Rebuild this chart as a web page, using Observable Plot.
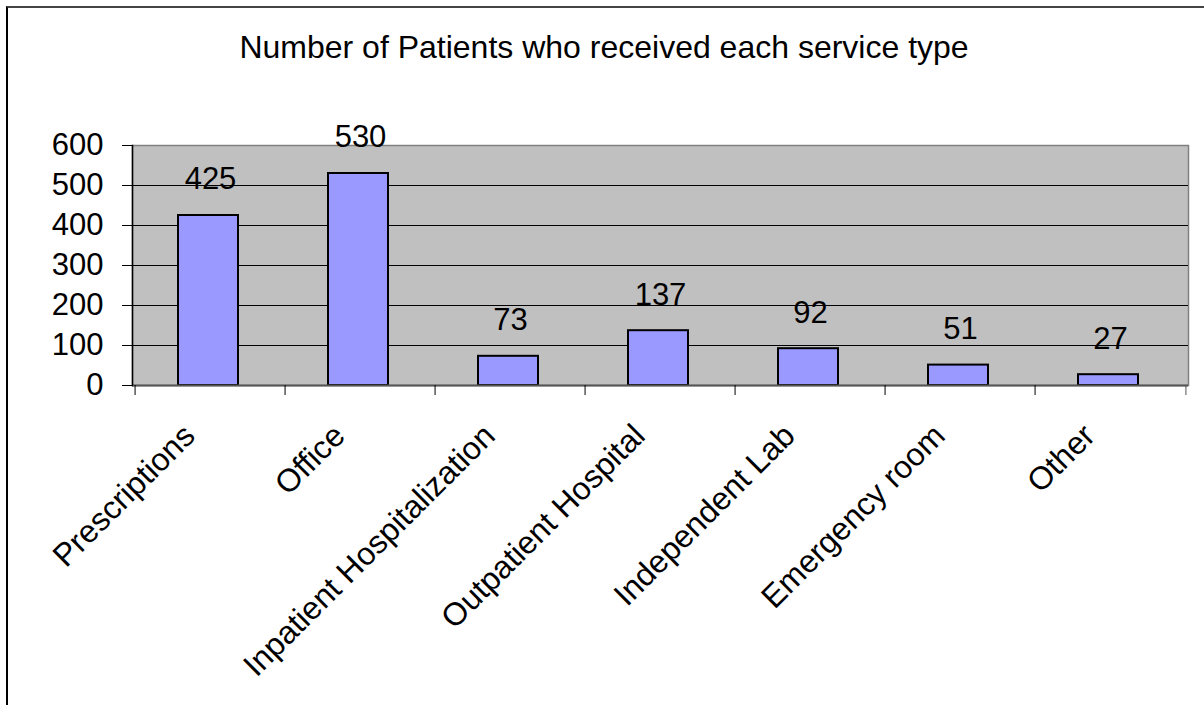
<!DOCTYPE html>
<html>
<head>
<meta charset="utf-8">
<script src="https://cdn.jsdelivr.net/npm/d3@7"></script>
<script src="https://cdn.jsdelivr.net/npm/@observablehq/plot@0.6"></script>
<style>
  html, body { margin: 0; padding: 0; background: #fff; overflow: hidden; }
  body { width: 1204px; height: 705px; position: relative; font-family: "Liberation Sans", Arial, sans-serif; }
  #frame { position: absolute; left: 6px; top: 6px; width: 1400px; height: 900px;
           border-left: 2px solid #000; border-top: 2px solid #444; pointer-events: none; }
  #title { box-sizing: border-box; width: 1204px; height: 100px; padding-top: 31px;
           text-align: center; font-size: 32px; line-height: 32px; color: #000; padding-left: 4px; }
  #chart svg { display: block; }
</style>
</head>
<body>
<div id="title">Number of Patients who received each service type</div>
<div id="chart"></div>
<div id="frame"></div>
<script>
const categories = ["Prescriptions", "Office", "Inpatient Hospitalization", "Outpatient Hospital", "Independent Lab", "Emergency room", "Other"];
const patients = [425, 530, 73, 137, 92, 51, 27];
const yTicks = [0, 100, 200, 300, 400, 500, 600];
const gridValues = [100, 200, 300, 400, 500];

const data = categories.map((c, i) => ({service: c, count: patients[i]}));

const W = 1204, H = 605;
const mL = 132, mR = 16, mT = 45, mB = 320;
const bw = (W - mL - mR) / categories.length;

const plot = Plot.plot({
  width: W,
  height: H,
  marginLeft: mL,
  marginRight: mR,
  marginTop: mT,
  marginBottom: mB,
  style: {fontFamily: "'Liberation Sans', Arial, sans-serif", color: "#000", background: "transparent", overflow: "visible"},
  x: {domain: categories, padding: 0, label: null},
  y: {domain: [0, 600], label: null},
  marks: [
    Plot.frame({fill: "#C0C0C0", stroke: "#808080", strokeWidth: 1.5}),
    Plot.ruleY(gridValues, {stroke: "#000", strokeWidth: 1}),
    Plot.barY(data, {x: "service", y: "count", fill: "#9999FF", stroke: "#000", strokeWidth: 2, insetLeft: 45, insetRight: 45, dx: -2}),
    Plot.ruleY([0], {stroke: "#555", strokeWidth: 2}),
    Plot.ruleX(categories, {x: d => d, y1: 0, y2: 0, dx: -bw / 2, insetBottom: -10, stroke: "#000", strokeWidth: 1}),
    Plot.ruleX(categories.slice(-1), {x: d => d, y1: 0, y2: 0, dx: bw / 2, insetBottom: -10, stroke: "#555", strokeWidth: 1}),
    Plot.frame({anchor: "left", stroke: "#000", strokeWidth: 1.5}),
    Plot.axisY({ticks: yTicks, tickSize: 10, tickPadding: 19, fontSize: 31, stroke: "#000", tickFormat: d => String(d)}),
    Plot.axisX({tickRotate: -45, tickSize: 0, tickPadding: 45, dx: -21, fontSize: 32}),
    Plot.text(data, {x: "service", y: "count", text: d => String(d.count), dy: -36, fontSize: 31, fill: "#000", lineAnchor: "middle"})
  ]
});
document.getElementById("chart").appendChild(plot);
</script>
</body>
</html>
